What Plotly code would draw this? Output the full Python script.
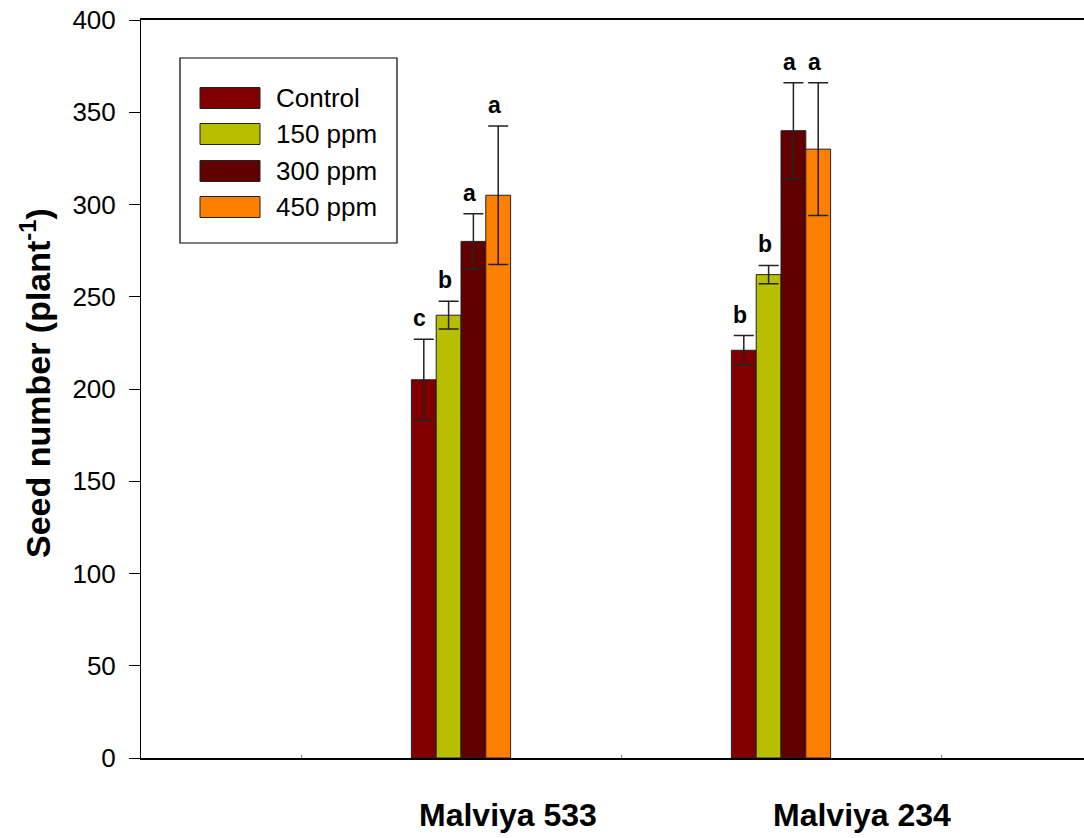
import plotly.graph_objects as go

# ---- data ----
cultivars = ["Malviya 533", "Malviya 234"]
treatments = ["Control", "150 ppm", "300 ppm", "450 ppm"]
seed_means = {
    "Control": [205, 221],
    "150 ppm": [240, 262],
    "300 ppm": [280, 340],
    "450 ppm": [305, 330],
}
seed_errors = {
    "Control": [22, 8],
    "150 ppm": [7.5, 5],
    "300 ppm": [15, 26],
    "450 ppm": [37.5, 36],
}
letters = {
    "Control": ["c", "b"],
    "150 ppm": ["b", "b"],
    "300 ppm": ["a", "a"],
    "450 ppm": ["a", "a"],
}
y_ticks = [0, 50, 100, 150, 200, 250, 300, 350, 400]

# ---- styling ----
colors = {
    "Control": "#800000",
    "150 ppm": "#B8BF00",
    "300 ppm": "#600000",
    "450 ppm": "#FF8000",
}
FONT = "Arial, 'Liberation Sans', sans-serif"

W, H = 1084, 838
ML, MR, MT, MB = 141, 0, 20, 80
PW, PH = W - ML - MR, H - MT - MB

def px_x(p):
    return (p - ML) / PW

def px_y(p):
    return (H - MB - p) / PH

group_x = [i + 1 for i in range(len(cultivars))]
bargap = 0.69
bar_w = (1 - bargap) / len(treatments)

fig = go.Figure()
annotations = []
for k, t in enumerate(treatments):
    fig.add_trace(go.Bar(
        name=t,
        x=group_x,
        y=seed_means[t],
        marker=dict(color=colors[t], line=dict(color="#222222", width=1)),
        error_y=dict(type="data", array=seed_errors[t], visible=True,
                     color="#222222", thickness=1.5, width=10),
        showlegend=False,
    ))
    offset = (k - (len(treatments) - 1) / 2) * bar_w
    for g, gx in enumerate(group_x):
        annotations.append(dict(
            x=gx + offset, y=seed_means[t][g] + seed_errors[t][g],
            xref="x", yref="y", text=letters[t][g], showarrow=False,
            yanchor="bottom", xanchor="center", yshift=6, xshift=-4,
            font=dict(family=FONT, size=23, color="black", weight="bold"),
        ))

# cultivar labels beneath the axis
label_x = [1.147, 2.253]
for name, lx in zip(cultivars, label_x):
    annotations.append(dict(
        x=lx, y=px_y(815), xref="x", yref="paper", text=name,
        showarrow=False, xanchor="center", yanchor="middle",
        font=dict(family=FONT, size=32, color="black", weight="bold"),
    ))

# y-axis title
annotations.append(dict(
    x=px_x(36), y=px_y(383), xref="paper", yref="paper",
    text="Seed number (plant<sup>-1</sup>)", textangle=-90,
    showarrow=False, xanchor="center", yanchor="middle",
    font=dict(family=FONT, size=34, color="black", weight="bold"),
))

# legend box
shapes = [dict(type="rect", xref="paper", yref="paper",
               x0=px_x(180), x1=px_x(397), y0=px_y(243), y1=px_y(58),
               line=dict(color="black", width=1.2), fillcolor="white")]
row_y = [98, 134, 171, 207]
for t, ry in zip(treatments, row_y):
    shapes.append(dict(type="rect", xref="paper", yref="paper",
                       x0=px_x(200), x1=px_x(260),
                       y0=px_y(ry + 10.5), y1=px_y(ry - 10.5),
                       line=dict(color="#222222", width=1), fillcolor=colors[t]))
    annotations.append(dict(
        x=px_x(274), y=px_y(ry), xref="paper", yref="paper", text=t,
        showarrow=False, xanchor="left", yanchor="middle",
        font=dict(family=FONT, size=26, color="black"),
    ))

fig.update_layout(
    width=W, height=H,
    margin=dict(l=ML, r=MR, t=MT, b=MB, pad=0),
    paper_bgcolor="white", plot_bgcolor="white",
    barmode="group", bargap=bargap, bargroupgap=0,
    annotations=annotations, shapes=shapes,
    showlegend=False,
)
fig.update_xaxes(
    range=[0, (W - ML) / 320], showgrid=False, zeroline=False,
    showline=True, linecolor="black", linewidth=1.5, mirror=True,
    tickvals=[0.5, 1.5, 2.5], showticklabels=False,
    ticks="inside", ticklen=3, tickcolor="#888888", tickwidth=1,
)
fig.update_yaxes(
    range=[0, 400], tickvals=y_ticks, showgrid=False, zeroline=False,
    showline=True, linecolor="black", linewidth=1,
    ticks="outside", ticklen=11, tickwidth=1, tickcolor="black",
    ticklabelstandoff=8,
    tickfont=dict(family=FONT, size=26, color="black"),
)

fig.write_html("out.html")
